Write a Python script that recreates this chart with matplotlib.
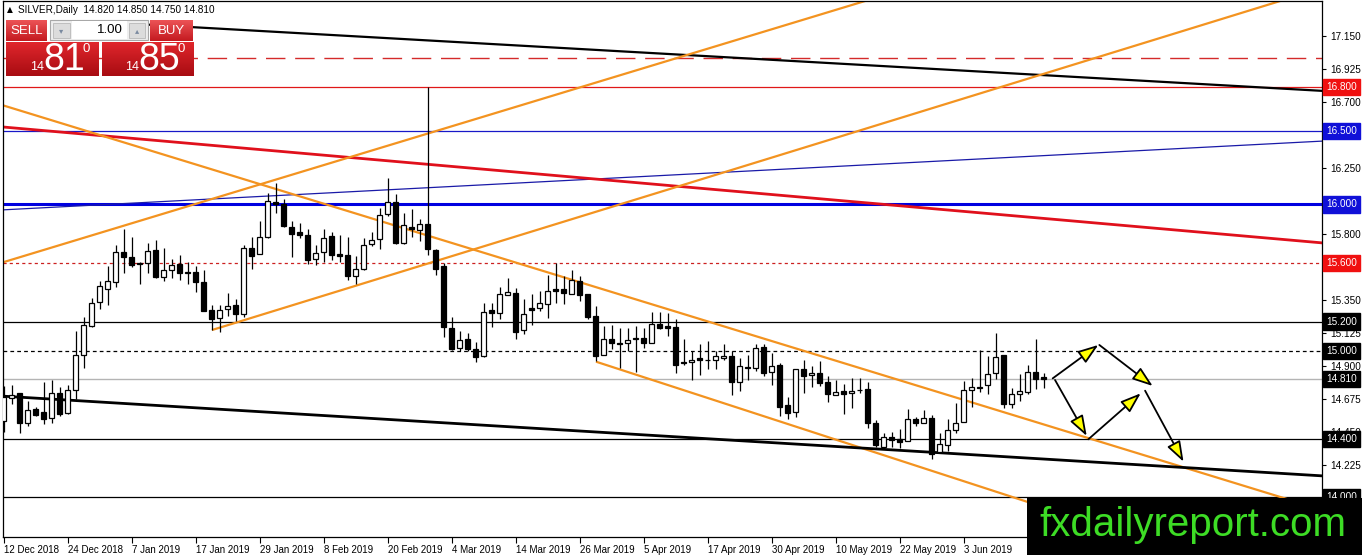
import numpy as np
import matplotlib
matplotlib.use('Agg')
import matplotlib.pyplot as plt
from matplotlib.patches import Rectangle, FancyArrowPatch
from matplotlib import colors as mcolors

FONT = ['Liberation Sans Narrow', 'Liberation Sans', 'DejaVu Sans']
plt.rcParams['font.family'] = FONT

# ---------------- data (daily candles, SILVER) ----------------
opens = [14.52, 14.68, 14.71, 14.51, 14.605, 14.585, 14.545, 14.715, 14.58, 14.735,
         14.97, 15.17, 15.335, 15.425, 15.47, 15.675, 15.64, 15.60, 15.60, 15.69,
         15.505, 15.55, 15.595, 15.54, 15.54, 15.47, 15.28, 15.225, 15.285, 15.315,
         15.255, 15.70, 15.66, 15.78, 16.015, 16.005, 15.845, 15.81, 15.795, 15.625,
         15.675, 15.785, 15.66, 15.655, 15.51, 15.56, 15.73, 15.765, 15.935, 16.015,
         15.735, 15.845, 15.825, 15.87, 15.69, 15.58, 15.16, 15.02, 15.08, 15.015,
         14.965, 15.28, 15.26, 15.38, 15.395, 15.14, 15.29, 15.295, 15.32, 15.42,
         15.425, 15.39, 15.48, 15.39, 15.24, 14.975, 15.08, 15.055, 15.055, 15.08,
         15.09, 15.055, 15.185, 15.17, 15.165, 14.925, 14.925, 14.95, 14.94, 14.94,
         14.95, 14.965, 14.79, 14.89, 14.885, 15.03, 14.855, 14.905, 14.63, 14.585,
         14.88, 14.835, 14.85, 14.79, 14.70, 14.73, 14.715, 14.737, 14.74, 14.505,
         14.345, 14.415, 14.40, 14.385, 14.535, 14.51, 14.545, 14.31, 14.36, 14.46,
         14.515, 14.735, 14.755, 14.765, 14.85, 14.97, 14.64, 14.705, 14.72, 14.855,
         14.82]
highs = [14.76, 14.77, 14.715, 14.66, 14.615, 14.785, 14.805, 14.755, 14.77, 15.135,
         15.235, 15.36, 15.475, 15.58, 15.72, 15.83, 15.78, 15.605, 15.74, 15.755,
         15.70, 15.625, 15.655, 15.605, 15.58, 15.55, 15.315, 15.315, 15.395, 15.355,
         15.72, 15.78, 15.885, 16.075, 16.15, 16.035, 15.885, 15.875, 15.83, 15.72,
         15.83, 15.81, 15.795, 15.78, 15.645, 15.77, 15.815, 15.975, 16.18, 16.07,
         15.94, 15.97, 15.90, 16.80, 15.695, 15.60, 15.235, 15.135, 15.12, 15.06,
         15.33, 15.33, 15.435, 15.50, 15.43, 15.355, 15.39, 15.41, 15.52, 15.60,
         15.515, 15.55, 15.51, 15.39, 15.305, 15.17, 15.175, 15.155, 15.155, 15.17,
         15.16, 15.265, 15.265, 15.26, 15.215, 15.08, 15.0, 15.05, 15.065, 15.0,
         15.045, 15.0, 14.955, 14.975, 15.045, 15.045, 14.985, 14.92, 14.685, 14.875,
         14.94, 14.895, 14.93, 14.83, 14.805, 14.775, 14.815, 14.815, 14.785, 14.53,
         14.44, 14.445, 14.465, 14.605, 14.55, 14.595, 14.56, 14.44, 14.535, 14.645,
         14.795, 14.815, 15.01, 14.965, 15.12, 14.975, 14.75, 14.84, 14.905, 15.08,
         14.85]
lows = [14.45, 14.635, 14.44, 14.485, 14.555, 14.50, 14.51, 14.555, 14.57, 14.67,
        14.885, 15.165, 15.285, 15.315, 15.435, 15.535, 15.575, 15.455, 15.535, 15.50,
        15.475, 15.50, 15.485, 15.455, 15.405, 15.27, 15.145, 15.13, 15.24, 15.205,
        15.235, 15.56, 15.66, 15.77, 15.945, 15.845, 15.64, 15.77, 15.595, 15.59,
        15.61, 15.62, 15.61, 15.485, 15.455, 15.555, 15.715, 15.695, 15.92, 15.73,
        15.73, 15.78, 15.75, 15.655, 15.52, 15.095, 15.01, 15.0, 15.0, 14.925,
        14.96, 15.165, 15.22, 15.38, 15.085, 15.115, 15.18, 15.27, 15.225, 15.33,
        15.32, 15.39, 15.34, 15.215, 14.93, 14.975, 15.015, 14.885, 15.0, 14.855,
        15.02, 15.055, 15.15, 15.10, 14.85, 14.905, 14.805, 14.835, 14.875, 14.88,
        14.94, 14.70, 14.73, 14.805, 14.86, 14.83, 14.77, 14.555, 14.535, 14.55,
        14.715, 14.755, 14.76, 14.655, 14.70, 14.57, 14.61, 14.715, 14.475, 14.345,
        14.33, 14.345, 14.335, 14.385, 14.485, 14.505, 14.265, 14.31, 14.315, 14.44,
        14.515, 14.62, 14.72, 14.705, 14.81, 14.61, 14.61, 14.66, 14.705, 14.74,
        14.75]
closes = [14.685, 14.70, 14.51, 14.595, 14.565, 14.535, 14.715, 14.57, 14.735, 14.975,
          15.175, 15.33, 15.445, 15.475, 15.675, 15.64, 15.59, 15.595, 15.68, 15.505,
          15.55, 15.585, 15.53, 15.53, 15.47, 15.27, 15.22, 15.28, 15.31, 15.255,
          15.705, 15.65, 15.78, 16.025, 16.005, 15.85, 15.80, 15.79, 15.62, 15.67,
          15.77, 15.655, 15.645, 15.515, 15.56, 15.72, 15.755, 15.93, 16.015, 15.74,
          15.86, 15.83, 15.865, 15.695, 15.56, 15.165, 15.015, 15.075, 15.015, 14.96,
          15.265, 15.26, 15.39, 15.405, 15.13, 15.25, 15.28, 15.33, 15.41, 15.41,
          15.395, 15.485, 15.38, 15.23, 14.965, 15.08, 15.055, 15.05, 15.075, 15.09,
          15.055, 15.185, 15.16, 15.155, 14.905, 14.915, 14.94, 14.94, 14.935, 14.965,
          14.965, 14.79, 14.895, 14.885, 15.02, 14.85, 14.90, 14.62, 14.58, 14.875,
          14.83, 14.85, 14.78, 14.705, 14.72, 14.705, 14.73, 14.733, 14.51, 14.36,
          14.41, 14.39, 14.38, 14.535, 14.51, 14.545, 14.295, 14.365, 14.46, 14.51,
          14.735, 14.755, 14.75, 14.845, 14.96, 14.64, 14.705, 14.73, 14.855, 14.81,
          14.81]

date_labels = ['12 Dec 2018', '24 Dec 2018', '7 Jan 2019', '17 Jan 2019', '29 Jan 2019',
               '8 Feb 2019', '20 Feb 2019', '4 Mar 2019', '14 Mar 2019', '26 Mar 2019',
               '5 Apr 2019', '17 Apr 2019', '30 Apr 2019', '10 May 2019', '22 May 2019',
               '3 Jun 2019']
date_bars = [0, 8, 16, 24, 32, 40, 48, 56, 64, 72, 80, 88, 96, 104, 112, 120]

price_ticks = [17.150, 16.925, 16.700, 16.475, 16.250, 16.025, 15.800, 15.575,
               15.350, 15.125, 14.900, 14.675, 14.450, 14.225, 14.000]
# tick labels fully hidden behind level boxes in the reference
hidden_tick_labels = [16.025, 14.000]

# horizontal levels: (price, color, linestyle, width)
levels = [
    (17.000, '#d42a2a', (0, (14, 7)), 1.0),
    (16.800, '#e01818', '-', 0.9),
    (16.500, '#1818c8', '-', 0.9),
    (16.000, '#0000e0', '-', 2.2),
    (15.600, '#cc2020', (0, (2.5, 2.5)), 0.9),
    (15.200, '#000000', '-', 0.9),
    (15.000, '#000000', (0, (3, 2.5)), 0.9),
    (14.810, '#b4b4b4', '-', 1.0),
    (14.400, '#000000', '-', 0.9),
    (14.000, '#000000', '-', 0.9),
]
level_label_colors = {16.800: '#f01010', 16.500: '#1010d8', 16.000: '#1010d8',
                      15.600: '#f01010', 15.200: '#000000', 15.000: '#000000',
                      14.810: '#000000', 14.400: '#000000', 14.000: '#000000'}

# trend lines: (bar0, price0, bar1, price1, color, width)
trendlines = [
    (15.0, 17.237, 165.0, 16.775, '#000000', 1.6),
    (-0.5, 15.962, 165.0, 16.433, '#1a1aa8', 0.9),
    (-0.5, 16.531, 165.0, 15.737, '#e0101c', 2.0),
    (-0.5, 15.598, 107.7, 17.389, '#f39320', 1.6),
    (-0.5, 16.684, 165.0, 13.913, '#f39320', 1.6),
    (74.06, 14.927, 165.0, 13.313, '#f39320', 1.6),
    (26.06, 15.143, 165.0, 17.480, '#f39320', 1.6),
    (-0.5, 14.693, 165.0, 14.147, '#000000', 2.0),
]

# projection arrows: (bar0, price0, bar1, price1)
arrows = [
    (131.15, 14.813, 136.85, 15.041),
    (136.98, 15.041, 143.65, 14.761),
    (131.44, 14.802, 135.40, 14.420),
    (135.60, 14.397, 142.15, 14.711),
    (142.70, 14.729, 147.50, 14.244),
]

header = 'SILVER,Daily  14.820 14.850 14.750 14.810'

# ---------------- figure ----------------
W, H = 1362, 555
fig = plt.figure(figsize=(W / 100, H / 100), dpi=100)
fig.patch.set_facecolor('white')

ax = fig.add_axes([3 / W, (H - 537) / H, (1322 - 3) / W, (537 - 1) / H])
ax.set_facecolor('white')
ax.set_xlim(-0.0625, -0.0625 + 1319 / 8)
ax.set_ylim(17.15 - 501 / 146.5, 17.15 + 35 / 146.5)
for s in ax.spines.values():
    s.set_color('black')
    s.set_linewidth(0.9)

for p, col, ls, lw in levels:
    ax.axhline(p, color=col, linestyle=ls, linewidth=lw, zorder=1)

for b0, p0, b1, p1, col, lw in trendlines:
    ax.plot([b0, b1], [p0, p1], color=col, linewidth=lw, zorder=2, solid_capstyle='butt')

# candles
o = np.array(opens); h = np.array(highs); l = np.array(lows); c = np.array(closes)
idx = np.arange(len(o))
ax.vlines(idx, l, h, color='black', linewidth=0.9, zorder=3)
bottoms = np.minimum(o, c)
heights = np.maximum(np.abs(c - o), 0.004)
up = c >= o
ax.bar(idx[up], heights[up], bottom=bottoms[up], width=0.62, color='white',
       edgecolor='black', linewidth=0.9, zorder=4)
ax.bar(idx[~up], heights[~up], bottom=bottoms[~up], width=0.62, color='black',
       edgecolor='black', linewidth=0.9, zorder=4)

for b0, p0, b1, p1 in arrows:
    a = FancyArrowPatch((b0, p0), (b1, p1),
                        arrowstyle='-|>,head_length=12.5,head_width=4.4',
                        mutation_scale=1, facecolor='#ffff00', edgecolor='black',
                        linewidth=1.3, shrinkA=0, shrinkB=0, zorder=6)
    ax.add_patch(a)

# axes ticks
ax.yaxis.tick_right()
ax.set_yticks(price_ticks)
ax.set_yticklabels(['' if v in hidden_tick_labels else f'{v:.3f}' for v in price_ticks])
ax.tick_params(axis='y', direction='out', length=3, pad=3, labelsize=7.2,
               colors='black', width=0.8)
ax.set_xticks(date_bars)
ax.set_xticklabels(date_labels)
ax.tick_params(axis='x', direction='out', length=4, pad=1.5, labelsize=7.0, width=0.8)
for t in ax.get_xticklabels():
    t.set_ha('left')

for p, col in level_label_colors.items():
    ax.annotate(f'{p:.3f}', xy=(1, p), xycoords=('axes fraction', 'data'),
                xytext=(3.0, 0), textcoords='offset points', ha='left', va='center',
                color='white', fontsize=7.2, annotation_clip=False, zorder=8,
                bbox=dict(boxstyle='square,pad=0.32', fc=col, ec=col))

# ---------------- overlay (panel, watermark) ----------------
ov = fig.add_axes([0, 0, 1, 1], zorder=10)
ov.set_facecolor('none')
ov.axis('off')


def grad(x0, x1, y0, y1, ctop, cbot, z=11):
    t = np.linspace(0, 1, 40)[:, None, None]
    a = np.array(mcolors.to_rgb(ctop))[None, None, :]
    b = np.array(mcolors.to_rgb(cbot))[None, None, :]
    img = a * (1 - t) + b * t
    ov.imshow(img, extent=(x0, x1, y1, y0), aspect='auto', zorder=z,
              interpolation='bilinear')


ov.text(7, 10, '\u25B2', fontsize=5.5, family=['DejaVu Sans'], va='center', ha='left')
ov.text(18, 10, header, fontsize=7.2, va='center', ha='left', color='black')

grad(6, 47, 20, 41, '#ec5356', '#c41a20')
grad(150, 193, 20, 41, '#ec5356', '#c41a20')
ov.text(26.5, 31, 'SELL', color='white', fontsize=9.5, ha='center', va='center', zorder=13)
ov.text(171.5, 31, 'BUY', color='white', fontsize=9.5, ha='center', va='center', zorder=13)
ov.add_patch(Rectangle((50, 20), 98, 20, fc='#eeeeee', ec='#a8a8a8', lw=0.8, zorder=11))
ov.add_patch(Rectangle((53, 23), 17, 15, fc='#dcdcdc', ec='#b8b8b8', lw=0.6, zorder=12))
ov.add_patch(Rectangle((129, 23), 16, 15, fc='#dcdcdc', ec='#b8b8b8', lw=0.6, zorder=12))
ov.add_patch(Rectangle((72, 21), 55, 18, fc='white', ec='none', zorder=12))
ov.text(61.5, 30.5, '\u25BE', fontsize=6, family=['DejaVu Sans'], color='#7a8aa0',
        ha='center', va='center', zorder=13)
ov.text(137, 30.5, '\u25B4', fontsize=6, family=['DejaVu Sans'], color='#7a8aa0',
        ha='center', va='center', zorder=13)
ov.text(123, 30, '1.00', fontsize=9.5, ha='right', va='center', color='black', zorder=13)
grad(6, 98.5, 42, 76, '#e0262c', '#a80c12')
grad(101.5, 193, 42, 76, '#e0262c', '#a80c12')
for cx, big in ((0, '81'), (95, '85')):
    ov.text(37 + cx, 67, '14', color='white', fontsize=9, ha='center', va='center', zorder=13)
    ov.text(64 + cx, 60, big, color='white', fontsize=27, ha='center', va='center', zorder=13)
    ov.text(86 + cx, 49, '0', color='white', fontsize=9.5, ha='center', va='center', zorder=13)

ov.add_patch(Rectangle((1027, 498), W - 1027, H - 498, fc='black', ec='none', zorder=14))
ov.text(1193, 536, 'fxdailyreport.com', color='#3ddc25', fontsize=29,
        ha='center', va='baseline', zorder=15)

ov.set_xlim(0, W)
ov.set_ylim(H, 0)

fig.savefig('out.png', dpi=100)
